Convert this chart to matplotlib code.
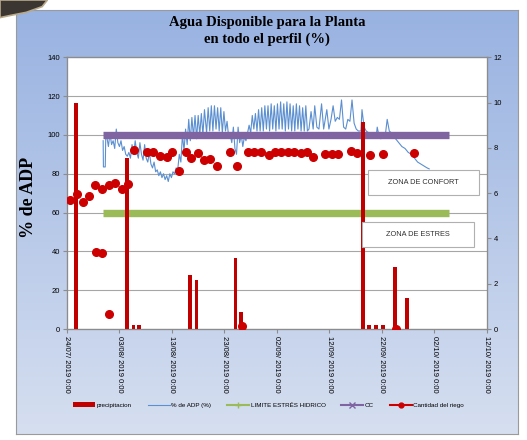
import matplotlib
matplotlib.use("Agg")
import matplotlib.pyplot as plt
from matplotlib.lines import Line2D
from matplotlib.patches import Rectangle, Patch, Polygon
import numpy as np
import pandas as pd

start = pd.Timestamp("2019-07-24")

# precipitacion (right axis), day offsets from 24/07/2019
rain_day = [1.7, 11.5, 12.7, 13.8, 23.5, 24.7, 32.1, 33.1, 33.8, 56.4, 57.6, 58.9, 60.2, 62.5, 64.8]
rain_mm = [10.0, 7.55, 0.2, 0.2, 2.4, 2.15, 3.15, 0.77, 0.15, 9.15, 0.2, 0.2, 0.2, 2.75, 1.37]

# % de ADP (left axis)
adp_day = [6.9, 6.95, 7.3, 7.4, 7.6, 7.9, 8.2, 8.5, 8.8, 9.1, 9.4, 9.7, 10.0, 10.3, 10.6, 10.9,
           11.2, 11.5, 11.8, 12.1, 12.4, 12.7, 13.0, 13.3, 13.6, 13.9, 14.2, 14.5, 14.8, 15.1,
           15.4, 15.7, 16.0, 16.3, 16.6, 16.9, 17.2, 17.5, 17.8, 18.1, 18.4, 18.7, 19.0, 19.3,
           19.6, 19.9, 20.2, 20.5, 20.8, 21.1, 21.4, 21.7, 22.0, 22.3, 22.6, 22.9, 23.2, 23.5,
           23.8, 24.1, 24.4, 24.7, 25.0, 25.3, 25.6, 25.9, 26.2, 26.6, 26.9, 27.2, 27.5, 27.8,
           28.1, 28.4, 28.7, 29.0, 29.3, 29.6, 29.9, 30.2, 30.5, 30.8, 31.1, 31.4, 31.7, 32.0,
           32.3, 32.6, 32.9, 33.2, 33.5, 33.8, 34.1, 34.4, 34.7, 35.0, 35.3, 35.6, 35.9, 36.2,
           36.5, 36.8, 37.1, 37.4, 37.7, 38.0, 38.3, 38.6, 38.9, 39.2, 39.5, 39.8, 40.1, 40.4,
           40.7, 41.0, 41.3, 41.6, 41.9, 42.2, 42.5, 42.8, 43.1, 43.4, 43.7, 44.0, 44.3, 44.6,
           44.9, 45.2, 45.5, 45.8, 46.1, 46.5, 46.9, 47.2, 47.6, 48.0, 48.5, 48.9, 49.5, 49.9,
           50.3, 50.7, 51.1, 51.5, 51.9, 52.3, 52.7, 53.1, 53.5, 53.9, 54.3, 54.7, 55.1, 55.5,
           56.0, 56.2, 56.6, 57.0, 57.5, 58.0, 58.5, 58.9, 59.1, 59.4, 59.8, 60.2, 60.6, 61.0,
           61.4, 61.8, 62.2, 62.6, 63.2, 63.8, 64.4, 65.0, 65.6, 66.2, 66.8, 67.4, 68.0, 68.6, 69.0]
adp_val = [97, 83.5, 83.5, 100, 99, 94, 101, 95, 97, 93, 103, 96, 94, 97, 92,
           94, 90, 89, 91, 88, 95, 90, 97, 91, 88, 96, 90, 87, 95,
           88, 86, 91, 85, 83, 86, 81, 82, 79, 81, 78, 80, 77, 79,
           76, 80, 78, 81, 80, 83, 82, 90, 86, 100, 92, 103, 95, 108,
           97, 109, 99, 110, 98, 110, 100, 111, 100, 113, 101, 114, 102, 115,
           102, 115, 103, 114, 102, 114, 101, 112, 102, 107, 99, 100, 96, 104,
           93, 90, 104, 96, 100, 94, 99, 97, 101, 105, 101, 110, 103, 111,
           102, 113, 102, 114, 102, 115, 103, 115, 102, 116, 103, 115, 102, 116,
           103, 117, 103, 116, 102, 117, 103, 116, 102, 115, 102, 116, 103, 115,
           102, 114, 102, 115, 102, 103, 112, 103, 115, 104, 103, 116, 103, 113,
           103, 108, 115, 107, 109, 108, 118, 104, 103, 108, 107, 118, 106, 103,
           102, 102, 113, 104, 102, 101, 100, 101, 99, 104, 100, 98, 100, 99,
           108, 102, 101, 100, 98, 96, 94, 93, 91, 90, 88, 86, 85, 84, 83, 82.5]

# LIMITE ESTRES HIDRICO and CC (left axis)
limit_day = [6.9, 72.7]
limit_val = [60, 60]
cc_day = [6.9, 72.7]
cc_val = [100, 100]

# Cantidad del riego (left axis)
riego_day = [0.6, 1.9, 3.1, 4.2, 5.4, 6.6, 5.5, 6.6, 8.0, 8.0, 9.2, 10.4, 11.7, 12.8,
             15.2, 16.3, 17.7, 19.0, 20.1, 21.3, 22.6, 23.7, 24.9, 26.1, 27.3, 28.6,
             31.0, 32.3, 33.4, 34.5, 35.7, 37.0, 38.4, 39.6, 40.8, 42.1, 43.3, 44.5,
             45.7, 46.8, 49.1, 50.4, 51.7, 54.1, 55.3, 57.7, 60.2, 62.6, 66.2]
riego_val = [66.4, 69.8, 65.7, 68.4, 74.2, 71.9, 39.6, 39.0, 7.7, 74.3, 75.3, 72.2, 74.6, 92.3,
             91.4, 91.4, 89.2, 88.7, 91.1, 81.5, 91.4, 88.2, 90.9, 87.3, 87.8, 84.2,
             91.4, 83.9, 1.5, 91.4, 91.4, 91.4, 89.4, 91.3, 91.1, 91.1, 91.1, 90.6,
             91.0, 88.7, 90.4, 90.2, 90.4, 91.6, 90.8, 89.5, 90.4, 0.0, 90.9]


def to_dates(days):
    return start + pd.to_timedelta(np.array(days, dtype=float), unit="D")


def main():
    fig = plt.figure(figsize=(5.27, 4.40), dpi=100)

    # blue gradient chart area
    bg = fig.add_axes([0.030, 0.014, 0.953, 0.964], zorder=-10)
    grad = np.linspace(0, 1, 256).reshape(-1, 1)
    top = np.array([152, 178, 225]) / 255
    bot = np.array([214, 223, 240]) / 255
    img = top + (bot - top) * grad[:, :, None]
    bg.imshow(img, aspect="auto", extent=[0, 1, 0, 1])
    bg.set_xticks([])
    bg.set_yticks([])
    for s in bg.spines.values():
        s.set_color("#9a9a9a")
        s.set_linewidth(0.8)

    # dark curl in the top left corner of the screenshot
    fig.patches.append(Polygon([(0, 1), (0.09, 1), (0.08, 0.985), (0.05, 0.972), (0.02, 0.965), (0, 0.96)],
                               closed=True, transform=fig.transFigure, facecolor="#3b3631",
                               edgecolor="#b8a98a", lw=1.2, zorder=5))

    ax = fig.add_axes([0.127, 0.252, 0.797, 0.618])
    ax.set_facecolor("white")
    ax2 = ax.twinx()
    ax3 = ax.twinx()

    ax.plot(to_dates(adp_day), adp_val, color="#5b8fd0", lw=0.8, zorder=2)
    ax.plot(to_dates(cc_day), cc_val, color="#8064a2", lw=5.3, solid_capstyle="butt", zorder=3)
    ax.plot(to_dates(limit_day), limit_val, color="#9bbb59", lw=5.3, solid_capstyle="butt", zorder=3)

    ax2.bar(to_dates(rain_day), rain_mm, width=0.72, color="#c00000", zorder=4)
    ax3.plot(to_dates(riego_day), riego_val, "o", color="#cc0000", ms=5.5, zorder=5)

    x0 = start
    x1 = start + pd.Timedelta(days=80)
    for a in (ax, ax2, ax3):
        a.set_xlim(x0, x1)
    ax.set_ylim(0, 140)
    ax3.set_ylim(0, 140)
    ax2.set_ylim(0, 12)
    ax.set_yticks(np.arange(0, 141, 20))
    ax2.set_yticks(np.arange(0, 13, 2))
    ax3.set_yticks([])
    ax.yaxis.grid(True, color="#a6a6a6", lw=0.8)
    ax.set_axisbelow(True)

    ticks = [start + pd.Timedelta(days=d) for d in range(0, 81, 10)]
    ax.set_xticks(ticks)
    ax.set_xticklabels([t.strftime("%d/%m/ %Y 0:00") for t in ticks],
                       rotation=-90, fontsize=5.5, family="Liberation Sans")
    for a in (ax, ax2, ax3):
        for s in a.spines.values():
            s.set_color("#8c8c8c")
            s.set_linewidth(0.8)
    ax.tick_params(axis="y", labelsize=5.5, length=3, color="#8c8c8c", pad=2)
    ax2.tick_params(axis="y", labelsize=5.5, length=3, color="#8c8c8c", pad=2)
    ax.tick_params(axis="x", length=3, color="#8c8c8c", pad=2)
    for lab in ax.get_yticklabels() + ax2.get_yticklabels():
        lab.set_family("Liberation Sans")

    ax.set_ylabel("% de ADP", family="Liberation Serif", fontweight="bold", fontsize=13)
    ax.yaxis.set_label_coords(-0.071, 0.485)

    # zone boxes
    for (bx0, by0, bx1, by1, txt) in [(0.717, 0.493, 0.981, 0.585, "ZONA DE CONFORT"),
                                      (0.702, 0.303, 0.969, 0.394, "ZONA DE ESTRES")]:
        ax3.add_patch(Rectangle((bx0, by0), bx1 - bx0, by1 - by0, transform=ax3.transAxes,
                                facecolor="white", edgecolor="#b0b0b0", lw=0.8, zorder=6))
        ax3.text((bx0 + bx1) / 2, (by0 + by1) / 2, txt, transform=ax3.transAxes,
                 ha="center", va="center", fontsize=5.3, color="#303030",
                 family="Liberation Sans", zorder=7)

    fig.text(0.507, 1 - 31 / 440, "Agua Disponible para la Planta\nen todo el perfil (%)",
             ha="center", va="center", fontsize=10.5, fontweight="bold",
             family="Liberation Serif", linespacing=1.25)

    handles = [Patch(facecolor="#c00000"),
               Line2D([], [], color="#5b8fd0", lw=0.8),
               Line2D([], [], color="#9bbb59", lw=1.5, marker="+", ms=5),
               Line2D([], [], color="#8064a2", lw=1.5, marker="x", ms=4),
               Line2D([], [], color="#cc0000", lw=1.5, marker="o", ms=3.5)]
    labels = ["precipitacion", "% de ADP (%)", "LIMITE ESTRÉS HIDRICO", "CC", "Cantidad del riego"]
    fig.legend(handles, labels, loc="center", bbox_to_anchor=(0.51, 1 - 405 / 440), ncol=5,
               frameon=False, prop={"family": "Liberation Sans", "size": 4.5},
               handlelength=3.5, columnspacing=2.5, handletextpad=0.3)

    fig.savefig("out.png", dpi=100)


if __name__ == "__main__":
    main()
